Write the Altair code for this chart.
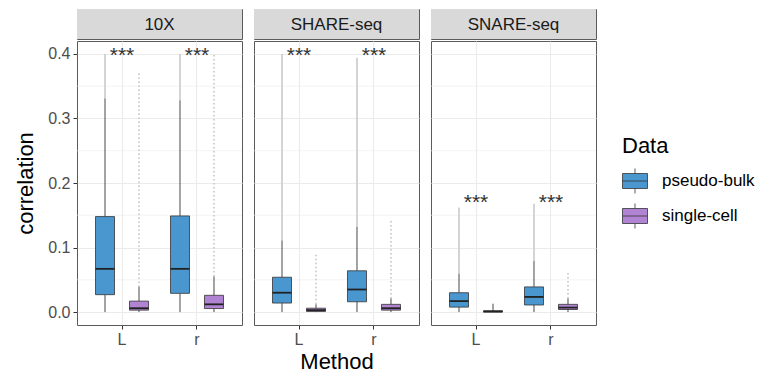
import altair as alt
import pandas as pd

facets = ["10X", "SHARE-seq", "SNARE-seq"]
methods = ["L", "r"]
groups = ["pseudo-bulk", "single-cell"]
colors = ["#4A97CF", "#B083D3"]

box_facet = ["10X"] * 4 + ["SHARE-seq"] * 4 + ["SNARE-seq"] * 4
box_method = ["L", "L", "r", "r"] * 3
box_group = ["pseudo-bulk", "single-cell"] * 6
lower = [0.0] * 12
q1 = [0.027, 0.003, 0.029, 0.0055, 0.014, 0.001, 0.016, 0.003, 0.0077, 0.0, 0.011, 0.004]
median = [0.067, 0.006, 0.067, 0.012, 0.030, 0.003, 0.035, 0.006, 0.017, 0.001, 0.0235, 0.007]
q3 = [0.148, 0.017, 0.149, 0.026, 0.054, 0.006, 0.064, 0.012, 0.030, 0.002, 0.039, 0.012]
upper = [0.331, 0.039, 0.328, 0.055, 0.111, 0.012, 0.132, 0.021, 0.0595, 0.013, 0.079, 0.021]
outlier_max = [0.400, 0.370, 0.400, 0.400, 0.400, 0.091, 0.394, 0.144, 0.162, 0.013, 0.168, 0.062]

star_facet = ["10X", "10X", "SHARE-seq", "SHARE-seq", "SNARE-seq", "SNARE-seq"]
star_method = ["L", "r", "L", "r", "L", "r"]
star_y = [0.388, 0.388, 0.388, 0.388, 0.159, 0.159]
star_text = ["***"] * 6

y_ticks = [0.0, 0.1, 0.2, 0.3, 0.4]
y_minor = [0.05, 0.15, 0.25, 0.35]

boxes = pd.DataFrame({
    "facet": box_facet, "method": box_method, "group": box_group,
    "lower": lower, "q1": q1, "median": median, "q3": q3,
    "upper": upper, "omax": outlier_max,
})
stars = pd.DataFrame({"facet": star_facet, "method": star_method, "y": star_y, "t": star_text})
minor = pd.DataFrame({"v": y_minor})

W, H, SH = 165, 284, 30
FONT = "Liberation Sans"
symbol_path = "M-1,-0.6H1V0.6H-1Z M-1,0H1 M0,-0.6V-1 M0,0.6V1"

yscale = alt.Scale(domain=[-0.02, 0.42], nice=False, zero=False)
xscale = alt.Scale(domain=methods, paddingInner=0.093, paddingOuter=0.1467)
xoscale = alt.Scale(domain=groups, paddingInner=0, paddingOuter=0)

color_enc = alt.Color(
    "group:N",
    scale=alt.Scale(domain=groups, range=colors),
    legend=alt.Legend(
        title="Data", orient="none", legendX=545, legendY=127,
        symbolType=symbol_path, symbolSize=625, symbolStrokeColor="#333333",
        symbolStrokeWidth=0.8, symbolOpacity=1, labelFontSize=17, titleFontSize=22,
        titleFontWeight="normal", titleColor="black", labelColor="black",
        rowPadding=5, labelOffset=14, titlePadding=10,
    ),
)


def y_axis(first):
    if first:
        return alt.Axis(values=y_ticks, format=".1f", title="correlation", labelFontSize=16,
                        labelColor="#4d4d4d", titleFontSize=22, titleFontWeight="normal",
                        titleColor="black", grid=True, domain=False, tickColor="#333333",
                        tickSize=4, labelPadding=3, titlePadding=10)
    return alt.Axis(values=y_ticks, labels=False, ticks=False, domain=False, title=None, grid=True)


def x_axis(mid):
    return alt.Axis(labelAngle=0, labelFontSize=16, labelColor="#4d4d4d", tickSize=4,
                    tickColor="#333333", domain=False, grid=True, labelPadding=2,
                    title="Method" if mid else None, titleFontSize=22,
                    titleFontWeight="normal", titleColor="black", titlePadding=4)


def panel(f, i):
    d = boxes[boxes.facet == f]
    ya = y_axis(i == 0)
    xa = x_axis(i == 1)
    X = alt.X("method:N", scale=xscale, axis=xa)
    XO = alt.XOffset("group:N", scale=xoscale)
    base = alt.Chart(d)

    grid_minor = alt.Chart(minor).mark_rule(color="#EBEBEB", strokeWidth=0.6).encode(
        y=alt.Y("v:Q", scale=yscale, axis=ya)
    )
    out_pb = base.transform_filter(alt.datum.group == "pseudo-bulk").mark_rule(
        color="#cfcfcf", strokeWidth=2, opacity=0.9
    ).encode(x=X, xOffset=XO, y=alt.Y("upper:Q", scale=yscale, axis=ya), y2="omax:Q")
    out_sc = base.transform_filter(alt.datum.group == "single-cell").mark_rule(
        color="#cfcfcf", strokeWidth=2, strokeDash=[1.5, 2.5]
    ).encode(x=X, xOffset=XO, y=alt.Y("upper:Q", scale=yscale, axis=ya), y2="omax:Q")
    wh_hi = base.mark_rule(color="#333333", strokeWidth=0.9).encode(
        x=X, xOffset=XO, y=alt.Y("q3:Q", scale=yscale, axis=ya), y2="upper:Q")
    wh_lo = base.mark_rule(color="#333333", strokeWidth=0.9).encode(
        x=X, xOffset=XO, y=alt.Y("lower:Q", scale=yscale, axis=ya), y2="q1:Q")
    box = base.mark_bar(width=19, stroke="#333333", strokeWidth=0.8, opacity=1).encode(
        x=X, xOffset=XO, y=alt.Y("q1:Q", scale=yscale, axis=ya), y2="q3:Q", fill=color_enc)
    med = base.mark_tick(size=19, thickness=1.8, color="#222222", opacity=1).encode(
        x=X, xOffset=XO, y=alt.Y("median:Q", scale=yscale, axis=ya))
    st = alt.Chart(stars[stars.facet == f]).mark_text(
        fontSize=21, color="#333333", baseline="alphabetic"
    ).encode(x=X, y=alt.Y("y:Q", scale=yscale, axis=ya), text="t:N")

    body = alt.layer(grid_minor, out_pb, out_sc, wh_hi, wh_lo, box, med, st).properties(
        width=W, height=H)

    strip_df = pd.DataFrame({"facet": [f]})
    strip_bg = alt.Chart(strip_df).mark_rect(fill="#D9D9D9").encode(
        x=alt.value(0), x2=alt.value(W), y=alt.value(0), y2=alt.value(SH))
    strip_tx = alt.Chart(strip_df).mark_text(fontSize=17, color="#1a1a1a", baseline="middle").encode(
        text="facet:N", x=alt.value(W / 2), y=alt.value(SH / 2 + 1))
    strip = alt.layer(strip_bg, strip_tx).properties(width=W, height=SH)
    return alt.vconcat(strip, body, spacing=0)


chart = alt.hconcat(*[panel(f, i) for i, f in enumerate(facets)], spacing=10).properties(
    padding={"left": 6, "top": 0, "right": 0, "bottom": 0}
).configure(font=FONT).configure_view(stroke="#5a5a5a", strokeWidth=1).configure_axis(
    gridColor="#EBEBEB", gridWidth=1.1
)

chart.save("out.html", embed_options={"renderer": "svg", "actions": False})
